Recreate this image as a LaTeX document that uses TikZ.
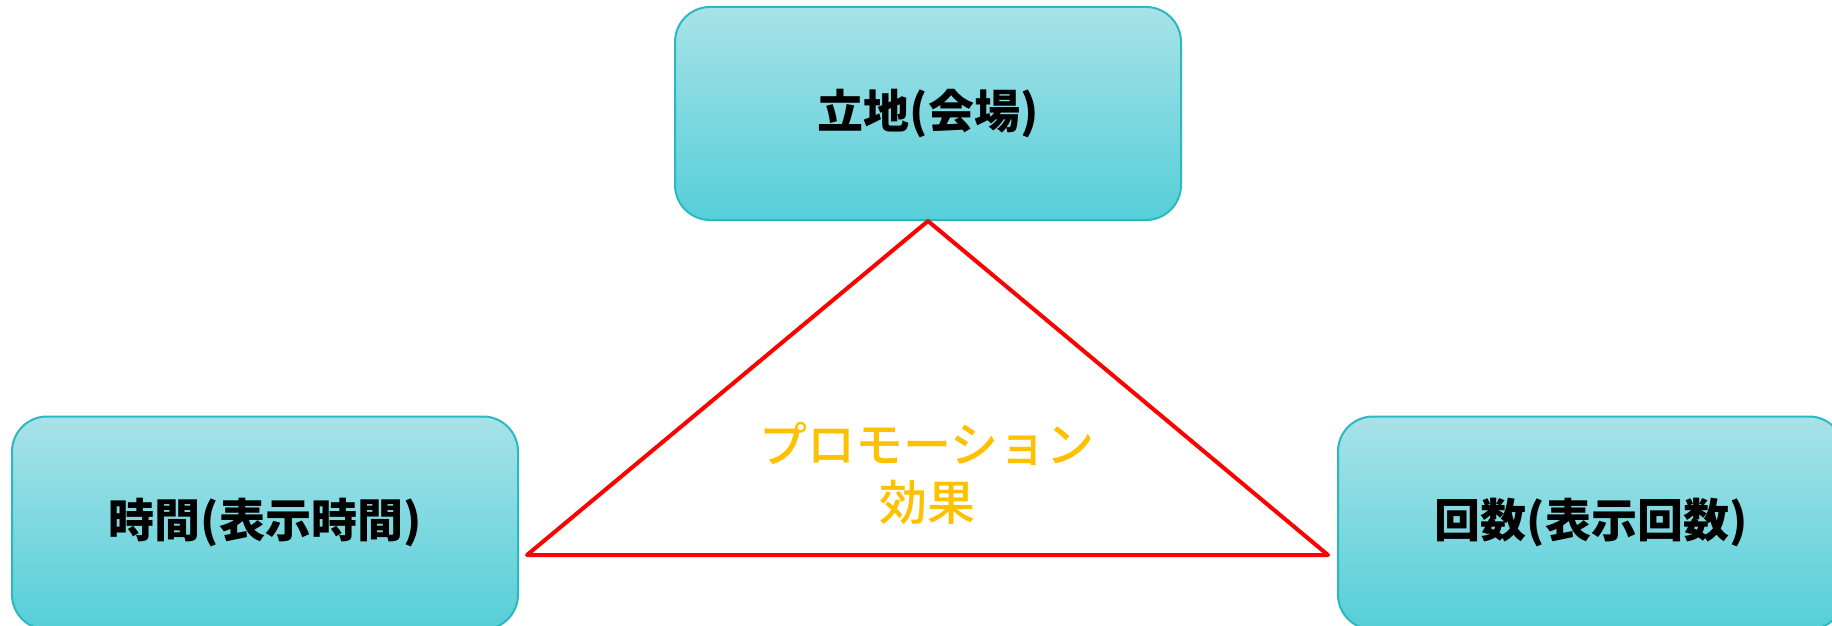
\documentclass[tikz,border=0pt]{standalone}
\usepackage{fontspec}
\newfontfamily\cjk{Noto Sans CJK JP}
\newfontfamily\cjkmed{Noto Sans CJK JP Medium}
\definecolor{boxtop}{HTML}{A8E2E8}
\definecolor{boxbot}{HTML}{55CFD8}
\definecolor{boxline}{HTML}{2CB8C0}
\definecolor{promoyellow}{HTML}{FFC000}
\tikzstyle{factor} = [rectangle, rounded corners=17.5pt, minimum width=253pt, minimum height=106.5pt, text centered, draw=boxline, line width=1pt, top color=boxtop, bottom color=boxbot, font=\cjk\bfseries\fontsize{23}{28}\selectfont]
\tikzstyle{effect} = [align=center, text=promoyellow, font=\cjkmed\fontsize{24}{29}\selectfont]
\tikzstyle{triline} = [draw=red, line width=2pt, line join=round]

\begin{document}
\begin{tikzpicture}[x=0.5pt, y=-0.5pt]
\useasboundingbox (0,0) rectangle (1832,626);

\node at (928, 113.5) (place) [factor] {立地(会場)};
\node at (265, 523) (time) [factor] {時間(表示時間)};
\node at (1591, 523) (count) [factor] {回数(表示回数)};

\coordinate (apex) at (place.south);
\coordinate (leftpt) at (527, 555);
\coordinate (rightpt) at (1328, 555);

\draw [triline] (apex) -- (leftpt) -- (rightpt) -- cycle;

\node at (927, 473) (promo) [effect] {プロモーション\\効果};

\end{tikzpicture}
\end{document}
